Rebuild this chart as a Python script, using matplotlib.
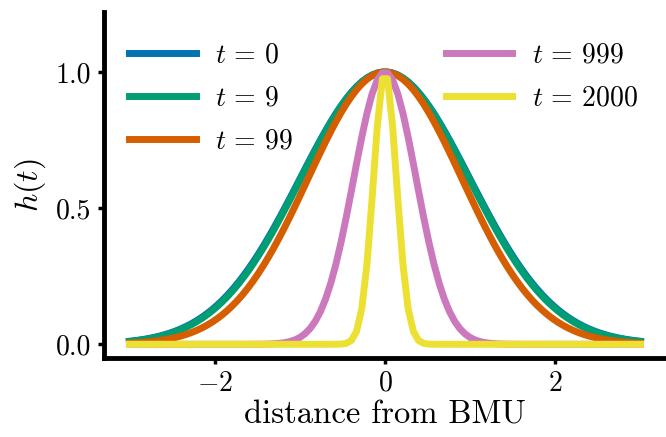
import numpy as np
import matplotlib
matplotlib.use("Agg")
from matplotlib import pyplot as plt

# neighbourhood width for each time step
t_steps = [0, 9, 99, 999, 2000]
sigmas = [1.0, 0.991, 0.906, 0.368, 0.135]
colors = ["#0173b2", "#029e73", "#d55e00", "#cc78bc", "#ece133"]

dist = np.linspace(-3, 3, 100)

plt.rcParams["font.family"] = "cmr10"
plt.rcParams["mathtext.fontset"] = "cm"
plt.rcParams["axes.formatter.use_mathtext"] = True
plt.rcParams["font.size"] = 20

fig = plt.figure(figsize=(6.66, 4.37), dpi=100)
ax = fig.add_axes([0.156, 0.181, 0.844, 0.7915])

for t, s, c in zip(t_steps, sigmas, colors):
    h = np.exp(-dist**2 / (2 * s**2))
    ax.plot(dist, h, color=c, lw=5, label=r"$t\,=\,%d$" % t)

ax.set_xlim(-3.3, 3.3)
ax.set_ylim(-0.05, 1.22)
ax.set_xticks([-2, 0, 2])
ax.set_yticks([0.0, 0.5, 1.0])
ax.set_yticklabels(["0.0", "0.5", "1.0"])

for side in ["top", "right"]:
    ax.spines[side].set_visible(False)
for side in ["left", "bottom"]:
    ax.spines[side].set_linewidth(3.5)
ax.tick_params(width=2.5, length=4, pad=5, labelsize=20)

ax.set_xlabel("distance from BMU", fontsize=23.5, labelpad=3)
ax.set_ylabel(r"$h(t)$", fontsize=23, labelpad=6)

ax.legend(loc="upper left", bbox_to_anchor=(0, 0.985), ncol=2, frameon=False,
          fontsize=20, handlelength=2.4, handletextpad=0.7, labelspacing=0.6,
          columnspacing=5.5, borderaxespad=0.5)

fig.savefig("out.png", dpi=100)
